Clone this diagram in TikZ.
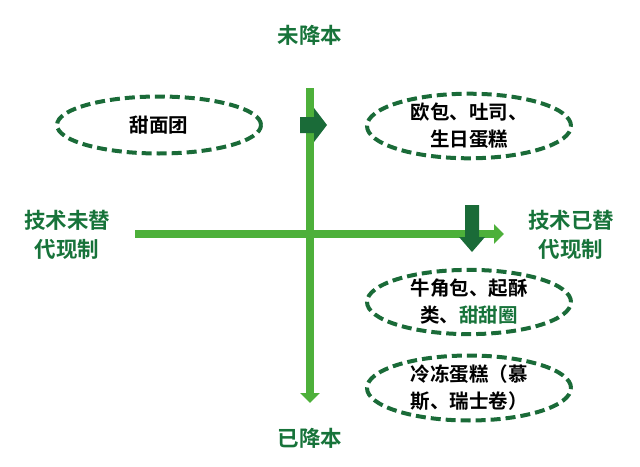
\documentclass[tikz,border=0pt]{standalone}
\usepackage{fontspec}
\newfontfamily\cjk{Noto Sans CJK SC}[BoldFont={Noto Sans CJK SC Bold}]
\usetikzlibrary{arrows.meta,shapes.geometric}
\definecolor{axisgreen}{HTML}{4DB03A}
\definecolor{darkgreen}{HTML}{1A6B38}
\definecolor{textgreen}{HTML}{17733A}
\tikzset{
  axis/.style={axisgreen,line width=8pt,-{Triangle[width=19pt,length=10pt]}},
  oval/.style={ellipse,draw=darkgreen,line width=4pt,dash pattern=on 10pt off 5pt,
    minimum width=204pt,minimum height=57pt,inner sep=0pt,align=center,
    font=\cjk\bfseries\fontsize{19.5}{27}\selectfont},
  axistext/.style={textgreen,align=center,font=\cjk\bfseries\fontsize{21.5}{29}\selectfont}
}
\begin{document}
\begin{tikzpicture}[x=1pt,y=-1pt]
  \useasboundingbox (0,0) rectangle (640,466);
  \coordinate (top) at (310,88);
  \coordinate (bottom) at (310,403);
  \coordinate (left) at (135,234);
  \coordinate (right) at (504,234);
  \draw[axis] (top) -- (bottom);
  \draw[axis] (left) -- (right);
  % dark arrows on the axes
  \fill[darkgreen] (300,117) -- (314,117) -- (314,108) -- (327,125)
    -- (314,142) -- (314,133) -- (300,133) -- cycle;
  \fill[darkgreen] (465,205) -- (479,205) -- (479,237) -- (485,237)
    -- (472,252) -- (459,237) -- (465,237) -- cycle;
  \node[axistext] (notcut) at (310,35) {未降本};
  \node[axistext] (cut) at (310,438) {已降本};
  \node[axistext] (notrep) at (67,235) {技术未替\\代现制};
  \node[axistext] (rep) at (571,235) {技术已替\\代现制};
  \node[oval] (dough) at (159,125) {甜面团};
  \node[oval] (bread) at (469,126) {欧包、吐司、\\生日蛋糕};
  \node[oval] (croissant) at (469,302) {牛角包、起酥\\类、{\color{textgreen}甜甜圈}};
  \node[oval] (frozen) at (469,388) {冷冻蛋糕（慕\\斯、瑞士卷）};
\end{tikzpicture}
\end{document}
